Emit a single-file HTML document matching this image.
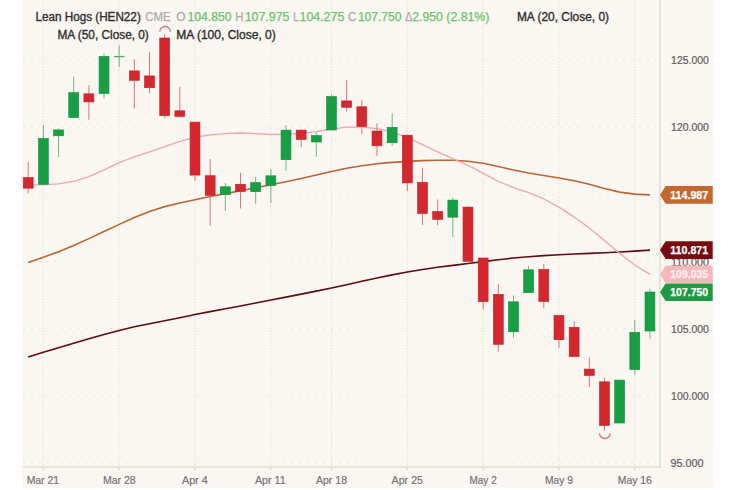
<!DOCTYPE html><html><head><meta charset="utf-8"><style>html,body{margin:0;padding:0;background:#fff;width:735px;height:490px;overflow:hidden}svg{display:block}text{font-family:"Liberation Sans",sans-serif}</style></head><body>
<svg width="735" height="490" viewBox="0 0 735 490">
<rect x="22.5" y="0" width="691.6" height="488.2" fill="#faf6f1"/>
<line x1="23" y1="60.3" x2="660" y2="60.3" stroke="#e6e1da" stroke-width="1" stroke-dasharray="1.5 6.4"/>
<line x1="23" y1="127.4" x2="660" y2="127.4" stroke="#e6e1da" stroke-width="1" stroke-dasharray="1.5 6.4"/>
<line x1="23" y1="194.5" x2="660" y2="194.5" stroke="#e6e1da" stroke-width="1" stroke-dasharray="1.5 6.4"/>
<line x1="23" y1="261.6" x2="660" y2="261.6" stroke="#e6e1da" stroke-width="1" stroke-dasharray="1.5 6.4"/>
<line x1="23" y1="328.7" x2="660" y2="328.7" stroke="#e6e1da" stroke-width="1" stroke-dasharray="1.5 6.4"/>
<line x1="23" y1="395.8" x2="660" y2="395.8" stroke="#e6e1da" stroke-width="1" stroke-dasharray="1.5 6.4"/>
<line x1="23" y1="462.9" x2="660" y2="462.9" stroke="#e6e1da" stroke-width="1" stroke-dasharray="1.5 6.4"/>
<line x1="43.3" y1="0" x2="43.3" y2="466" stroke="#e4dfd7" stroke-width="1.2" stroke-dasharray="1.3 1.6"/>
<line x1="118.9" y1="0" x2="118.9" y2="466" stroke="#e4dfd7" stroke-width="1.2" stroke-dasharray="1.3 1.6"/>
<line x1="194.9" y1="0" x2="194.9" y2="466" stroke="#e4dfd7" stroke-width="1.2" stroke-dasharray="1.3 1.6"/>
<line x1="270.7" y1="0" x2="270.7" y2="466" stroke="#e4dfd7" stroke-width="1.2" stroke-dasharray="1.3 1.6"/>
<line x1="331.5" y1="0" x2="331.5" y2="466" stroke="#e4dfd7" stroke-width="1.2" stroke-dasharray="1.3 1.6"/>
<line x1="407.3" y1="0" x2="407.3" y2="466" stroke="#e4dfd7" stroke-width="1.2" stroke-dasharray="1.3 1.6"/>
<line x1="483.1" y1="0" x2="483.1" y2="466" stroke="#e4dfd7" stroke-width="1.2" stroke-dasharray="1.3 1.6"/>
<line x1="558.9" y1="0" x2="558.9" y2="466" stroke="#e4dfd7" stroke-width="1.2" stroke-dasharray="1.3 1.6"/>
<line x1="634.7" y1="0" x2="634.7" y2="466" stroke="#e4dfd7" stroke-width="1.2" stroke-dasharray="1.3 1.6"/>
<line x1="660" y1="0" x2="660" y2="467.4" stroke="#dcd8d2" stroke-width="1.3"/>
<line x1="22.5" y1="466.8" x2="660" y2="466.8" stroke="#dcd8d2" stroke-width="1.3"/>
<line x1="43.3" y1="466.8" x2="43.3" y2="470.8" stroke="#dcd8d2" stroke-width="1.2"/>
<line x1="118.9" y1="466.8" x2="118.9" y2="470.8" stroke="#dcd8d2" stroke-width="1.2"/>
<line x1="194.9" y1="466.8" x2="194.9" y2="470.8" stroke="#dcd8d2" stroke-width="1.2"/>
<line x1="270.7" y1="466.8" x2="270.7" y2="470.8" stroke="#dcd8d2" stroke-width="1.2"/>
<line x1="331.5" y1="466.8" x2="331.5" y2="470.8" stroke="#dcd8d2" stroke-width="1.2"/>
<line x1="407.3" y1="466.8" x2="407.3" y2="470.8" stroke="#dcd8d2" stroke-width="1.2"/>
<line x1="483.1" y1="466.8" x2="483.1" y2="470.8" stroke="#dcd8d2" stroke-width="1.2"/>
<line x1="558.9" y1="466.8" x2="558.9" y2="470.8" stroke="#dcd8d2" stroke-width="1.2"/>
<line x1="634.7" y1="466.8" x2="634.7" y2="470.8" stroke="#dcd8d2" stroke-width="1.2"/>
<path d="M28.20,357.10 L43.36,352.32 L58.53,347.65 L73.69,343.15 L88.86,338.79 L104.02,334.52 L119.19,330.45 L134.35,326.82 L149.52,323.68 L164.68,320.73 L179.85,317.68 L195.01,314.59 L210.18,311.65 L225.34,308.80 L240.51,305.92 L255.67,302.99 L270.84,300.04 L286.00,297.10 L301.17,294.13 L316.33,291.11 L331.50,287.99 L346.66,284.71 L361.83,281.29 L376.99,277.94 L392.16,274.85 L407.32,272.04 L422.49,269.53 L437.65,267.32 L452.82,265.34 L467.98,263.46 L483.15,261.59 L498.31,259.74 L513.48,258.06 L528.64,256.70 L543.81,255.67 L558.98,254.81 L574.14,254.06 L589.31,253.40 L604.47,252.77 L619.63,252.04 L634.80,251.12 L649.97,250.10" fill="none" stroke="#5e0b12" stroke-width="1.6"/>
<path d="M28.20,262.60 L43.36,257.33 L58.53,251.73 L73.69,245.48 L88.86,238.61 L104.02,231.47 L119.19,224.39 L134.35,217.60 L149.52,211.48 L164.68,206.63 L179.85,202.98 L195.01,199.70 L210.18,196.52 L225.34,193.63 L240.51,190.80 L255.67,187.77 L270.84,184.69 L286.00,181.69 L301.17,178.52 L316.33,174.99 L331.50,171.46 L346.66,168.31 L361.83,165.72 L376.99,163.81 L392.16,162.42 L407.32,161.38 L422.49,160.66 L437.65,160.23 L452.82,160.26 L467.98,161.18 L483.15,163.32 L498.31,166.58 L513.48,170.02 L528.64,172.95 L543.81,175.49 L558.98,177.92 L574.14,180.74 L589.31,184.33 L604.47,188.48 L619.63,192.09 L634.80,194.08 L649.97,194.90" fill="none" stroke="#bb652f" stroke-width="1.6"/>
<path d="M28.20,184.80 L43.36,184.70 L58.53,183.92 L73.69,181.28 L88.86,176.56 L104.02,169.79 L119.19,162.67 L134.35,156.89 L149.52,151.81 L164.68,146.58 L179.85,141.35 L195.01,137.27 L210.18,134.94 L225.34,133.59 L240.51,133.03 L255.67,133.67 L270.84,134.47 L286.00,134.31 L301.17,133.37 L316.33,131.56 L331.50,128.96 L346.66,127.15 L361.83,127.09 L376.99,128.59 L392.16,132.01 L407.32,137.65 L422.49,144.64 L437.65,151.89 L452.82,158.62 L467.98,165.26 L483.15,173.31 L498.31,181.43 L513.48,187.54 L528.64,192.68 L543.81,198.87 L558.98,207.19 L574.14,217.03 L589.31,227.96 L604.47,240.45 L619.63,253.55 L634.80,265.01 L649.97,274.30" fill="none" stroke="#efa6ad" stroke-width="1.35"/>
<rect x="27.70" y="161.90" width="1" height="15.30" fill="#d9737a"/>
<rect x="27.70" y="188.50" width="1" height="5.10" fill="#d9737a"/>
<rect x="23.25" y="177.50" width="9.90" height="10.70" fill="#d5272e" stroke="#bd1f27" stroke-width="0.6"/>
<rect x="42.86" y="125.00" width="1" height="13.20" fill="#6fb682"/>
<rect x="38.41" y="138.50" width="9.90" height="45.80" fill="#17a043" stroke="#12893a" stroke-width="0.6"/>
<rect x="58.03" y="128.40" width="1" height="1.20" fill="#6fb682"/>
<rect x="58.03" y="136.10" width="1" height="20.90" fill="#6fb682"/>
<rect x="53.58" y="129.90" width="9.90" height="5.90" fill="#17a043" stroke="#12893a" stroke-width="0.6"/>
<rect x="73.19" y="76.60" width="1" height="15.70" fill="#6fb682"/>
<rect x="68.74" y="92.60" width="9.90" height="25.00" fill="#17a043" stroke="#12893a" stroke-width="0.6"/>
<rect x="88.36" y="85.30" width="1" height="8.20" fill="#d9737a"/>
<rect x="88.36" y="102.20" width="1" height="17.50" fill="#d9737a"/>
<rect x="83.91" y="93.80" width="9.90" height="8.10" fill="#d5272e" stroke="#bd1f27" stroke-width="0.6"/>
<rect x="103.52" y="53.30" width="1" height="2.80" fill="#6fb682"/>
<rect x="103.52" y="93.80" width="1" height="4.70" fill="#6fb682"/>
<rect x="99.07" y="56.40" width="9.90" height="37.10" fill="#17a043" stroke="#12893a" stroke-width="0.6"/>
<rect x="118.69" y="45.20" width="1" height="10.30" fill="#6fb682"/>
<rect x="118.69" y="56.70" width="1" height="10.20" fill="#6fb682"/>
<rect x="113.94" y="55.90" width="10.50" height="1.3" fill="#4fa865"/>
<rect x="133.85" y="59.50" width="1" height="11.10" fill="#d9737a"/>
<rect x="133.85" y="80.60" width="1" height="27.90" fill="#d9737a"/>
<rect x="129.41" y="70.90" width="9.90" height="9.40" fill="#d5272e" stroke="#bd1f27" stroke-width="0.6"/>
<rect x="149.02" y="52.00" width="1" height="23.60" fill="#d9737a"/>
<rect x="149.02" y="88.00" width="1" height="5.00" fill="#d9737a"/>
<rect x="144.57" y="75.90" width="9.90" height="11.80" fill="#d5272e" stroke="#bd1f27" stroke-width="0.6"/>
<rect x="164.18" y="34.30" width="1" height="3.40" fill="#d9737a"/>
<rect x="164.18" y="116.00" width="1" height="2.40" fill="#d9737a"/>
<rect x="159.73" y="38.00" width="9.90" height="77.70" fill="#d5272e" stroke="#bd1f27" stroke-width="0.6"/>
<rect x="179.35" y="86.80" width="1" height="23.70" fill="#d9737a"/>
<rect x="179.35" y="116.70" width="1" height="0.50" fill="#d9737a"/>
<rect x="174.90" y="110.80" width="9.90" height="5.60" fill="#d5272e" stroke="#bd1f27" stroke-width="0.6"/>
<rect x="194.51" y="175.40" width="1" height="5.40" fill="#d9737a"/>
<rect x="190.06" y="122.10" width="9.90" height="53.00" fill="#d5272e" stroke="#bd1f27" stroke-width="0.6"/>
<rect x="209.68" y="159.00" width="1" height="16.40" fill="#d9737a"/>
<rect x="209.68" y="195.60" width="1" height="30.20" fill="#d9737a"/>
<rect x="205.23" y="175.70" width="9.90" height="19.60" fill="#d5272e" stroke="#bd1f27" stroke-width="0.6"/>
<rect x="224.84" y="183.00" width="1" height="3.50" fill="#6fb682"/>
<rect x="224.84" y="195.00" width="1" height="16.00" fill="#6fb682"/>
<rect x="220.39" y="186.80" width="9.90" height="7.90" fill="#17a043" stroke="#12893a" stroke-width="0.6"/>
<rect x="240.01" y="173.00" width="1" height="11.00" fill="#d9737a"/>
<rect x="240.01" y="191.80" width="1" height="16.70" fill="#d9737a"/>
<rect x="235.56" y="184.30" width="9.90" height="7.20" fill="#d5272e" stroke="#bd1f27" stroke-width="0.6"/>
<rect x="255.17" y="177.00" width="1" height="5.30" fill="#6fb682"/>
<rect x="255.17" y="192.00" width="1" height="11.60" fill="#6fb682"/>
<rect x="250.72" y="182.60" width="9.90" height="9.10" fill="#17a043" stroke="#12893a" stroke-width="0.6"/>
<rect x="270.34" y="169.00" width="1" height="6.50" fill="#6fb682"/>
<rect x="270.34" y="185.80" width="1" height="17.20" fill="#6fb682"/>
<rect x="265.89" y="175.80" width="9.90" height="9.70" fill="#17a043" stroke="#12893a" stroke-width="0.6"/>
<rect x="285.50" y="125.00" width="1" height="4.80" fill="#6fb682"/>
<rect x="285.50" y="160.00" width="1" height="10.90" fill="#6fb682"/>
<rect x="281.06" y="130.10" width="9.90" height="29.60" fill="#17a043" stroke="#12893a" stroke-width="0.6"/>
<rect x="300.67" y="129.00" width="1" height="0.80" fill="#d9737a"/>
<rect x="300.67" y="139.80" width="1" height="7.30" fill="#d9737a"/>
<rect x="296.22" y="130.10" width="9.90" height="9.40" fill="#d5272e" stroke="#bd1f27" stroke-width="0.6"/>
<rect x="315.83" y="132.30" width="1" height="2.90" fill="#6fb682"/>
<rect x="315.83" y="142.30" width="1" height="14.50" fill="#6fb682"/>
<rect x="311.38" y="135.50" width="9.90" height="6.50" fill="#17a043" stroke="#12893a" stroke-width="0.6"/>
<rect x="331.00" y="94.50" width="1" height="1.80" fill="#6fb682"/>
<rect x="326.55" y="96.60" width="9.90" height="33.40" fill="#17a043" stroke="#12893a" stroke-width="0.6"/>
<rect x="346.16" y="80.20" width="1" height="20.40" fill="#d9737a"/>
<rect x="346.16" y="107.60" width="1" height="3.90" fill="#d9737a"/>
<rect x="341.71" y="100.90" width="9.90" height="6.40" fill="#d5272e" stroke="#bd1f27" stroke-width="0.6"/>
<rect x="361.33" y="100.10" width="1" height="6.40" fill="#d9737a"/>
<rect x="361.33" y="126.80" width="1" height="7.50" fill="#d9737a"/>
<rect x="356.88" y="106.80" width="9.90" height="19.70" fill="#d5272e" stroke="#bd1f27" stroke-width="0.6"/>
<rect x="376.49" y="123.40" width="1" height="7.30" fill="#d9737a"/>
<rect x="376.49" y="146.10" width="1" height="10.10" fill="#d9737a"/>
<rect x="372.04" y="131.00" width="9.90" height="14.80" fill="#d5272e" stroke="#bd1f27" stroke-width="0.6"/>
<rect x="391.66" y="113.30" width="1" height="13.70" fill="#6fb682"/>
<rect x="391.66" y="143.00" width="1" height="3.00" fill="#6fb682"/>
<rect x="387.21" y="127.30" width="9.90" height="15.40" fill="#17a043" stroke="#12893a" stroke-width="0.6"/>
<rect x="406.82" y="183.20" width="1" height="7.80" fill="#d9737a"/>
<rect x="402.38" y="135.20" width="9.90" height="47.70" fill="#d5272e" stroke="#bd1f27" stroke-width="0.6"/>
<rect x="421.99" y="167.80" width="1" height="14.20" fill="#d9737a"/>
<rect x="421.99" y="213.80" width="1" height="11.20" fill="#d9737a"/>
<rect x="417.54" y="182.30" width="9.90" height="31.20" fill="#d5272e" stroke="#bd1f27" stroke-width="0.6"/>
<rect x="437.15" y="199.40" width="1" height="11.70" fill="#d9737a"/>
<rect x="437.15" y="219.80" width="1" height="5.50" fill="#d9737a"/>
<rect x="432.70" y="211.40" width="9.90" height="8.10" fill="#d5272e" stroke="#bd1f27" stroke-width="0.6"/>
<rect x="452.32" y="197.50" width="1" height="2.30" fill="#6fb682"/>
<rect x="452.32" y="217.50" width="1" height="19.70" fill="#6fb682"/>
<rect x="447.87" y="200.10" width="9.90" height="17.10" fill="#17a043" stroke="#12893a" stroke-width="0.6"/>
<rect x="467.48" y="206.10" width="1" height="0.70" fill="#d9737a"/>
<rect x="463.03" y="207.10" width="9.90" height="54.20" fill="#d5272e" stroke="#bd1f27" stroke-width="0.6"/>
<rect x="482.65" y="257.60" width="1" height="0.10" fill="#d9737a"/>
<rect x="482.65" y="301.90" width="1" height="7.50" fill="#d9737a"/>
<rect x="478.20" y="258.00" width="9.90" height="43.60" fill="#d5272e" stroke="#bd1f27" stroke-width="0.6"/>
<rect x="497.81" y="284.30" width="1" height="9.70" fill="#d9737a"/>
<rect x="497.81" y="344.60" width="1" height="7.00" fill="#d9737a"/>
<rect x="493.36" y="294.30" width="9.90" height="50.00" fill="#d5272e" stroke="#bd1f27" stroke-width="0.6"/>
<rect x="512.98" y="295.30" width="1" height="6.20" fill="#6fb682"/>
<rect x="512.98" y="332.10" width="1" height="5.50" fill="#6fb682"/>
<rect x="508.53" y="301.80" width="9.90" height="30.00" fill="#17a043" stroke="#12893a" stroke-width="0.6"/>
<rect x="528.14" y="265.70" width="1" height="3.80" fill="#6fb682"/>
<rect x="523.69" y="269.80" width="9.90" height="22.80" fill="#17a043" stroke="#12893a" stroke-width="0.6"/>
<rect x="543.31" y="264.20" width="1" height="4.90" fill="#d9737a"/>
<rect x="543.31" y="301.90" width="1" height="6.10" fill="#d9737a"/>
<rect x="538.86" y="269.40" width="9.90" height="32.20" fill="#d5272e" stroke="#bd1f27" stroke-width="0.6"/>
<rect x="558.48" y="340.00" width="1" height="7.80" fill="#d9737a"/>
<rect x="554.02" y="315.50" width="9.90" height="24.20" fill="#d5272e" stroke="#bd1f27" stroke-width="0.6"/>
<rect x="573.64" y="321.10" width="1" height="5.90" fill="#d9737a"/>
<rect x="569.19" y="327.30" width="9.90" height="29.20" fill="#d5272e" stroke="#bd1f27" stroke-width="0.6"/>
<rect x="588.81" y="357.40" width="1" height="11.40" fill="#d9737a"/>
<rect x="588.81" y="375.80" width="1" height="11.40" fill="#d9737a"/>
<rect x="584.36" y="369.10" width="9.90" height="6.40" fill="#d5272e" stroke="#bd1f27" stroke-width="0.6"/>
<rect x="603.97" y="377.80" width="1" height="3.70" fill="#d9737a"/>
<rect x="603.97" y="425.80" width="1" height="5.00" fill="#d9737a"/>
<rect x="599.52" y="381.80" width="9.90" height="43.70" fill="#d5272e" stroke="#bd1f27" stroke-width="0.6"/>
<rect x="619.13" y="379.50" width="1" height="0.30" fill="#6fb682"/>
<rect x="614.68" y="380.10" width="9.90" height="42.90" fill="#17a043" stroke="#12893a" stroke-width="0.6"/>
<rect x="634.30" y="320.20" width="1" height="11.80" fill="#6fb682"/>
<rect x="634.30" y="369.80" width="1" height="5.00" fill="#6fb682"/>
<rect x="629.85" y="332.30" width="9.90" height="37.20" fill="#17a043" stroke="#12893a" stroke-width="0.6"/>
<rect x="649.47" y="288.60" width="1" height="3.10" fill="#6fb682"/>
<rect x="649.47" y="331.30" width="1" height="7.30" fill="#6fb682"/>
<rect x="645.01" y="292.00" width="9.90" height="39.00" fill="#17a043" stroke="#12893a" stroke-width="0.6"/>
<path d="M159.8,31.8 A5.3,5.3 0 0 1 170.4,31.8" fill="none" stroke="#d9737a" stroke-width="1.3"/>
<path d="M599.5,433.2 A5.3,5.3 0 0 0 610.1,433.2" fill="none" stroke="#d9737a" stroke-width="1.3"/>
<text x="35.4" y="20.8" font-size="12" fill="#2e2e2e" stroke="#2e2e2e" stroke-width="0.35" textLength="105.4" lengthAdjust="spacingAndGlyphs">Lean Hogs (HEN22)</text>
<text x="145.3" y="20.8" font-size="12" fill="#ababab" stroke="#ababab" stroke-width="0.25" textLength="25.4" lengthAdjust="spacingAndGlyphs">CME</text>
<text x="176.2" y="20.8" font-size="12" fill="#ababab" stroke="#ababab" stroke-width="0.25" textLength="9.2" lengthAdjust="spacingAndGlyphs">O</text>
<text x="187.4" y="20.8" font-size="12" fill="#6ac46e" stroke="#6ac46e" stroke-width="0.25" textLength="44.1" lengthAdjust="spacingAndGlyphs">104.850</text>
<text x="235.2" y="20.8" font-size="12" fill="#ababab" stroke="#ababab" stroke-width="0.25" textLength="8.2" lengthAdjust="spacingAndGlyphs">H</text>
<text x="244.7" y="20.8" font-size="12" fill="#6ac46e" stroke="#6ac46e" stroke-width="0.25" textLength="44.8" lengthAdjust="spacingAndGlyphs">107.975</text>
<text x="293.3" y="20.8" font-size="12" fill="#ababab" stroke="#ababab" stroke-width="0.25" textLength="5.6" lengthAdjust="spacingAndGlyphs">L</text>
<text x="299.5" y="20.8" font-size="12" fill="#6ac46e" stroke="#6ac46e" stroke-width="0.25" textLength="44.8" lengthAdjust="spacingAndGlyphs">104.275</text>
<text x="348.0" y="20.8" font-size="12" fill="#ababab" stroke="#ababab" stroke-width="0.25" textLength="8.4" lengthAdjust="spacingAndGlyphs">C</text>
<text x="357.9" y="20.8" font-size="12" fill="#6ac46e" stroke="#6ac46e" stroke-width="0.25" textLength="43.6" lengthAdjust="spacingAndGlyphs">107.750</text>
<text x="405.2" y="20.8" font-size="12" fill="#ababab" stroke="#ababab" stroke-width="0.25" textLength="7.0" lengthAdjust="spacingAndGlyphs">&#916;</text>
<text x="412.2" y="20.8" font-size="12" fill="#6ac46e" stroke="#6ac46e" stroke-width="0.25" textLength="77.2" lengthAdjust="spacingAndGlyphs">2.950 (2.81%)</text>
<text x="516.9" y="20.8" font-size="12" fill="#2e2e2e" stroke="#2e2e2e" stroke-width="0.35" textLength="92.2" lengthAdjust="spacingAndGlyphs">MA (20, Close, 0)</text>
<text x="57.5" y="39.2" font-size="12" fill="#2e2e2e" stroke="#2e2e2e" stroke-width="0.35" textLength="91.3" lengthAdjust="spacingAndGlyphs">MA (50, Close, 0)</text>
<text x="176.2" y="39.2" font-size="12" fill="#2e2e2e" stroke="#2e2e2e" stroke-width="0.35" textLength="99.6" lengthAdjust="spacingAndGlyphs">MA (100, Close, 0)</text>
<text x="671.1" y="64.2" font-size="11" fill="#5c5c5c" stroke="#5c5c5c" stroke-width="0.20" textLength="37.8" lengthAdjust="spacingAndGlyphs">125.000</text>
<text x="671.1" y="131.3" font-size="11" fill="#5c5c5c" stroke="#5c5c5c" stroke-width="0.20" textLength="37.8" lengthAdjust="spacingAndGlyphs">120.000</text>
<text x="671.1" y="332.6" font-size="11" fill="#5c5c5c" stroke="#5c5c5c" stroke-width="0.20" textLength="37.8" lengthAdjust="spacingAndGlyphs">105.000</text>
<text x="671.1" y="399.7" font-size="11" fill="#5c5c5c" stroke="#5c5c5c" stroke-width="0.20" textLength="37.8" lengthAdjust="spacingAndGlyphs">100.000</text>
<text x="670.6" y="466.8" font-size="11" fill="#5c5c5c" stroke="#5c5c5c" stroke-width="0.20" textLength="33.0" lengthAdjust="spacingAndGlyphs">95.000</text>
<text x="671.1" y="265.5" font-size="11" fill="#5c5c5c" stroke="#5c5c5c" stroke-width="0.20" textLength="37.8" lengthAdjust="spacingAndGlyphs">110.000</text>
<text x="26.7" y="483.6" font-size="11" fill="#737373" stroke="#737373" stroke-width="0.20" textLength="32.3" lengthAdjust="spacingAndGlyphs">Mar 21</text>
<text x="102.9" y="483.6" font-size="11" fill="#737373" stroke="#737373" stroke-width="0.20" textLength="32.7" lengthAdjust="spacingAndGlyphs">Mar 28</text>
<text x="182.0" y="483.6" font-size="11" fill="#737373" stroke="#737373" stroke-width="0.20" textLength="25.6" lengthAdjust="spacingAndGlyphs">Apr 4</text>
<text x="255.0" y="483.6" font-size="11" fill="#737373" stroke="#737373" stroke-width="0.20" textLength="30.6" lengthAdjust="spacingAndGlyphs">Apr 11</text>
<text x="316.0" y="483.6" font-size="11" fill="#737373" stroke="#737373" stroke-width="0.20" textLength="31.0" lengthAdjust="spacingAndGlyphs">Apr 18</text>
<text x="391.6" y="483.6" font-size="11" fill="#737373" stroke="#737373" stroke-width="0.20" textLength="31.4" lengthAdjust="spacingAndGlyphs">Apr 25</text>
<text x="469.5" y="483.6" font-size="11" fill="#737373" stroke="#737373" stroke-width="0.20" textLength="27.2" lengthAdjust="spacingAndGlyphs">May 2</text>
<text x="544.9" y="483.6" font-size="11" fill="#737373" stroke="#737373" stroke-width="0.20" textLength="28.0" lengthAdjust="spacingAndGlyphs">May 9</text>
<text x="617.8" y="483.6" font-size="11" fill="#737373" stroke="#737373" stroke-width="0.20" textLength="34.0" lengthAdjust="spacingAndGlyphs">May 16</text>
<path d="M660,194.9 L665.6,186.1 L712.7,186.1 L712.7,203.7 L665.6,203.7 Z" fill="#c4682f"/>
<text x="670.2" y="198.8" font-size="11" fill="#ffffff" stroke="#ffffff" stroke-width="0.25" font-weight="bold" textLength="38.0" lengthAdjust="spacingAndGlyphs">114.987</text>
<path d="M660,250.1 L665.6,241.3 L712.7,241.3 L712.7,258.9 L665.6,258.9 Z" fill="#780c13"/>
<text x="670.2" y="254.0" font-size="11" fill="#ffffff" stroke="#ffffff" stroke-width="0.25" font-weight="bold" textLength="38.0" lengthAdjust="spacingAndGlyphs">110.871</text>
<path d="M660,274.2 L665.6,265.4 L712.7,265.4 L712.7,283.0 L665.6,283.0 Z" fill="#f6b8bb"/>
<text x="670.2" y="278.1" font-size="11" fill="#fdf0f0" stroke="#fdf0f0" stroke-width="0.25" font-weight="bold" textLength="38.0" lengthAdjust="spacingAndGlyphs">109.035</text>
<path d="M660,292.2 L665.6,283.4 L712.7,283.4 L712.7,301.0 L665.6,301.0 Z" fill="#1f9a40"/>
<text x="670.2" y="296.1" font-size="11" fill="#ffffff" stroke="#ffffff" stroke-width="0.25" font-weight="bold" textLength="38.0" lengthAdjust="spacingAndGlyphs">107.750</text>
</svg></body></html>
